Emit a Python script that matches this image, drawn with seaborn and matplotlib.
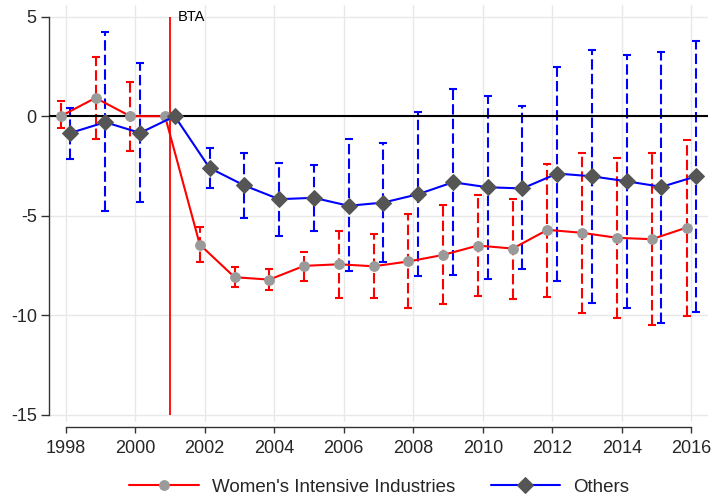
import numpy as np
import pandas as pd
import matplotlib
matplotlib.use("Agg")
import matplotlib.pyplot as plt
import seaborn as sns

# Event-study coefficients with 95% confidence bounds
years = np.arange(1998, 2017)

women_coef = [0.00, 0.92, 0.00, 0.00, -6.45, -8.09, -8.21, -7.52, -7.44, -7.54,
              -7.30, -6.97, -6.50, -6.65, -5.71, -5.86, -6.11, -6.18, -5.60]
women_lo = [-0.58, -1.17, -1.74, np.nan, -7.35, -8.56, -8.71, -8.26, -9.15, -9.15,
            -9.65, -9.46, -9.03, -9.16, -9.06, -9.88, -10.13, -10.47, -10.02]
women_hi = [0.74, 3.00, 1.72, np.nan, -5.58, -7.60, -7.69, -6.83, -5.76, -5.93,
            -4.91, -4.47, -3.97, -4.14, -2.38, -1.87, -2.11, -1.87, -1.19]

others_coef = [-0.84, -0.30, -0.84, 0.00, -2.60, -3.48, -4.17, -4.10, -4.50, -4.34,
               -3.92, -3.32, -3.57, -3.63, -2.88, -3.02, -3.27, -3.55, -3.02]
others_lo = [-2.14, -4.76, -4.31, np.nan, -3.60, -5.09, -6.01, -5.76, -7.79, -7.34,
             -8.02, -7.99, -8.18, -7.70, -8.29, -9.38, -9.63, -10.39, -9.85]
others_hi = [0.42, 4.24, 2.68, np.nan, -1.62, -1.87, -2.33, -2.43, -1.17, -1.36,
             0.22, 1.36, 1.03, 0.50, 2.48, 3.33, 3.10, 3.23, 3.80]

series_labels = ["Women's Intensive Industries", "Others"]
x_ticks = list(range(1998, 2017, 2))
y_ticks = [5, 0, -5, -10, -15]
event_year = 2001
event_label = "BTA"

sns.set_theme(style="white")
plt.rcParams["font.family"] = ["Liberation Sans", "DejaVu Sans"]

fig = plt.figure(figsize=(7.13, 4.96), dpi=100)
ax = fig.add_axes([0.0691, 0.149, 0.924, 0.841])

shift = 0.14
groups = [
    (women_coef, women_lo, women_hi, -shift, "red", "o", "#9a9a9a", 7.0, series_labels[0]),
    (others_coef, others_lo, others_hi, shift, "blue", "D", "#555555", 7.8, series_labels[1]),
]

# dashed confidence intervals
for coef, lo, hi, off, col, mk, mcol, ms, lab in groups:
    df = pd.DataFrame({"x": years + off, "b": coef, "lo": lo, "hi": hi}).dropna()
    eb = ax.errorbar(df["x"], df["b"], yerr=[df["b"] - df["lo"], df["hi"] - df["b"]],
                     fmt="none", ecolor=col, elinewidth=1.5, capsize=3, capthick=1.5,
                     zorder=2)
    for lc in eb[2]:
        lc.set_linestyle((0, (5, 2)))

# point estimates
for coef, lo, hi, off, col, mk, mcol, ms, lab in groups:
    df = pd.DataFrame({"x": years + off, "b": coef})
    sns.lineplot(data=df, x="x", y="b", ax=ax, color=col, lw=1.5, marker=mk,
                 markersize=ms, markerfacecolor=mcol, markeredgecolor=mcol,
                 label=lab, zorder=4, sort=False)

ax.axhline(0, color="black", lw=1.5, zorder=3)
ax.vlines(event_year, -15, 5, color="red", lw=1.3, zorder=3)
ax.text(event_year + 0.22, 5, event_label, fontsize=10.5, ha="left", va="center",
        color="black")

ax.set_xlim(1997.53, 2016.48)
ax.set_ylim(-15.37, 5.59)
ax.set_xticks(x_ticks)
ax.set_yticks(y_ticks)
ax.set_xticklabels([str(t) for t in x_ticks])
ax.set_yticklabels([str(t) for t in y_ticks])
ax.set_xlabel("")
ax.set_ylabel("")

ax.grid(True, color="#e8e8e8", lw=1.0)
ax.set_axisbelow(True)

for s in ["top", "right"]:
    ax.spines[s].set_visible(False)
ax.spines["left"].set_bounds(-15, 5)
ax.spines["bottom"].set_bounds(1998, 2016)
ax.spines["bottom"].set_position(("outward", 3.4))
for s in ["left", "bottom"]:
    ax.spines[s].set_color("#333333")
    ax.spines[s].set_linewidth(1.0)

ax.tick_params(axis="x", direction="out", length=4.5, width=1.0, color="#333333",
               labelsize=13, pad=5, bottom=True)
ax.tick_params(axis="y", direction="out", length=5.5, width=1.0, color="#333333",
               labelsize=13, pad=3.5, left=True)

handles, labels = ax.get_legend_handles_labels()
ax.legend(handles, labels, loc="center", bbox_to_anchor=(0.532, 0.018),
          bbox_transform=fig.transFigure, ncol=2, frameon=False, fontsize=13.5,
          handlelength=3.7, handletextpad=0.7, columnspacing=1.9)

fig.savefig("out.png", dpi=100)
